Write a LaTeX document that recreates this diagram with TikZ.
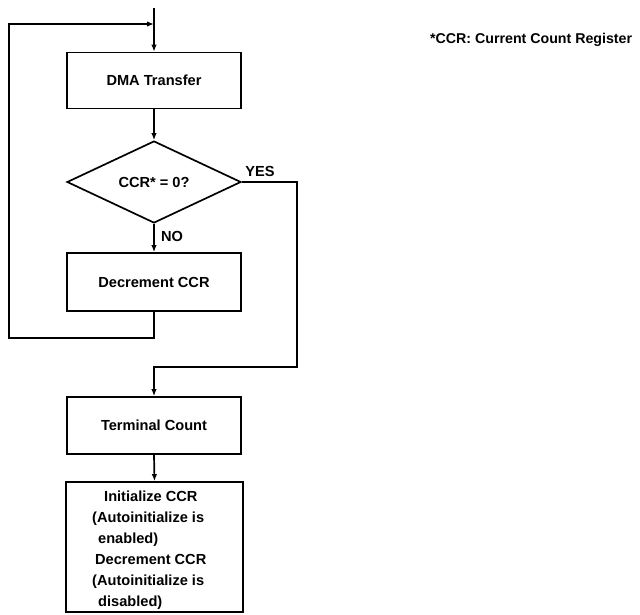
\documentclass[tikz,border=0pt]{standalone}
\usepackage{fontspec}
\setmainfont{Liberation Sans}
\usetikzlibrary{shapes.geometric,arrows.meta}
\begin{document}
\begin{tikzpicture}[x=1pt,y=-1pt,
  every node/.style={font=\fontsize{14.6}{21}\selectfont\bfseries},
  box/.style={draw,line width=1.7pt,rectangle,inner sep=0pt},
  decide/.style={draw,line width=1.7pt,diamond,inner sep=0pt,minimum width=174pt,minimum height=82pt},
  flow/.style={line width=1.7pt},
  arr/.style={flow,-{Latex[length=7pt,width=5.5pt]}},
  lbl/.style={inner sep=0pt}]
\useasboundingbox (0,0) rectangle (640,614);
\coordinate (top) at (154,8);
\coordinate (j) at (154,24);
\node[box,minimum width=174pt,minimum height=56pt] (dma) at (154,80.5) {DMA Transfer};
\node[decide] (dia) at (154,182) {CCR* = 0?};
\node[box,minimum width=174pt,minimum height=58pt] (decr) at (154,282) {Decrement CCR};
\node[box,minimum width=174pt,minimum height=57pt] (term) at (154,425.5) {Terminal Count};
\node[box,minimum width=177pt,minimum height=130pt] (init) at (154.5,547) {};
\node[lbl,anchor=west,align=left] (initt) at (92,550) {\hspace{12pt}Initialize CCR\\(Autoinitialize is\\\hspace{6pt}enabled)\\\hspace{3pt}Decrement CCR\\(Autoinitialize is\\\hspace{6pt}disabled)};
\node[lbl] (yes) at (260,171) {YES};
\node[lbl] (no) at (172,236) {NO};
\node[lbl,anchor=west,font=\fontsize{14.2}{17}\selectfont\bfseries] (note) at (430,40) {*CCR: Current Count Register};
\coordinate (l1) at (154,338);
\coordinate (l2) at (9,338);
\coordinate (l3) at (9,24);
\coordinate (y1) at (297,182);
\coordinate (y2) at (297,367);
\coordinate (y3) at (154,367);
\draw[arr] (top) -- (dma.north);
\draw[arr] (dma.south) -- (dia.north);
\draw[arr] (dia.south) -- (decr.north);
\draw[arr] (decr.south) -- (l1) -- (l2) -- (l3) -- (j);
\draw[arr] (dia.east) -- (y1) -- (y2) -- (y3) -- (term.north);
\draw[arr] (term.south) -- (init.north);
\end{tikzpicture}
\end{document}
